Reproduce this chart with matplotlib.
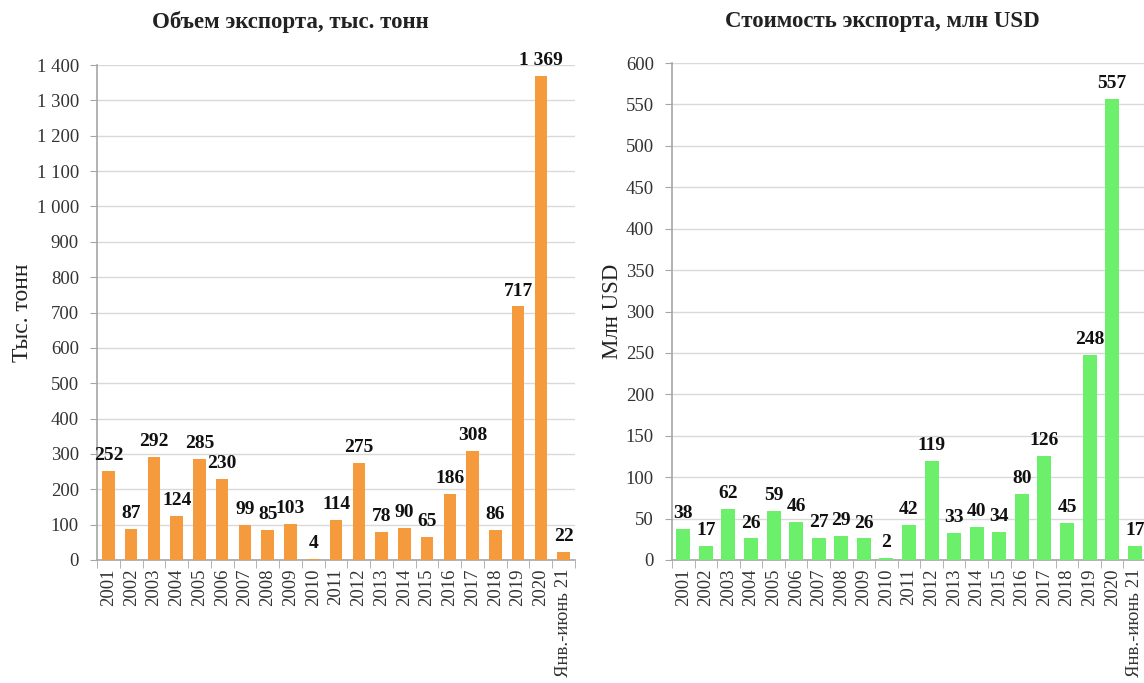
import matplotlib
matplotlib.use("Agg")
import matplotlib.pyplot as plt
from matplotlib.ticker import FuncFormatter, MultipleLocator, FixedLocator
import numpy as np

plt.rcParams['font.family'] = ['Liberation Serif', 'DejaVu Serif']

categories = ['2001', '2002', '2003', '2004', '2005', '2006', '2007', '2008', '2009', '2010',
              '2011', '2012', '2013', '2014', '2015', '2016', '2017', '2018', '2019', '2020',
              'Янв.-июнь 21']
volume = [252, 87, 292, 124, 285, 230, 99, 85, 103, 4, 114, 275, 78, 90, 65, 186, 308, 86, 717, 1369, 22]
value = [38, 17, 62, 26, 59, 46, 27, 29, 26, 2, 42, 119, 33, 40, 34, 80, 126, 45, 248, 557, 17]

title_left = 'Объем экспорта, тыс. тонн'
title_right = 'Стоимость экспорта, млн USD'
ylabel_left = 'Тыс. тонн'
ylabel_right = 'Млн USD'

W, H = 1144, 683
fig = plt.figure(figsize=(W / 100, H / 100), dpi=100)


def fmt(v, pos=None):
    return f'{int(v):,}'.replace(',', ' ')


def make(ax, data, color, ymax, step, width):
    x = np.arange(len(categories))
    ax.bar(x, data, width=width, color=color, zorder=3)
    ax.set_xlim(-0.5, len(categories) - 0.5)
    ax.set_ylim(0, ymax)
    ax.yaxis.set_major_locator(MultipleLocator(step))
    ax.yaxis.set_major_formatter(FuncFormatter(fmt))
    ax.set_xticks(x)
    ax.set_xticklabels(categories, rotation=90, fontsize=13.5, color='#333333')
    ax.xaxis.set_minor_locator(FixedLocator(np.arange(-0.5, len(categories), 1.0)))
    ax.tick_params(axis='x', which='major', length=0, pad=6)
    ax.tick_params(axis='x', which='minor', length=6, color='#A6A6A6', direction='out')
    ax.tick_params(axis='y', which='major', length=5, color='#A6A6A6', labelsize=13.5,
                   labelcolor='#333333', pad=8)
    ax.grid(axis='y', color='#D9D9D9', linewidth=1, zorder=0)
    for s in ['top', 'right']:
        ax.spines[s].set_visible(False)
    for s in ['left', 'bottom']:
        ax.spines[s].set_color('#A6A6A6')
        ax.spines[s].set_linewidth(1.2)
    for xi, v in zip(x, data):
        ax.annotate(fmt(v), (xi, v), xytext=(0, 5), textcoords='offset points',
                    ha='center', va='bottom', fontsize=14, fontweight='bold', color='#111111',
                    zorder=4)


ax1 = fig.add_axes([97 / W, (H - 560) / H, (575 - 97) / W, (560 - 65) / H])
make(ax1, volume, '#F59B3D', 1400, 100, 0.55)
ax1.set_ylabel(ylabel_left, fontsize=17, color='#222222', labelpad=3)

ax2 = fig.add_axes([672 / W, (H - 560) / H, (1146 - 672) / W, (560 - 63) / H])
make(ax2, value, '#6CF06C', 600, 50, 0.62)
ax2.set_ylabel(ylabel_right, fontsize=16.5, color='#222222', labelpad=2)

fig.text(290 / W, 1 - 22 / H, title_left, ha='center', va='center', fontsize=16.5,
         fontweight='bold', color='#222222')
fig.text(882 / W, 1 - 22 / H, title_right, ha='center', va='center', fontsize=16.5,
         fontweight='bold', color='#222222')

fig.savefig('out.png', dpi=100, facecolor='white')
